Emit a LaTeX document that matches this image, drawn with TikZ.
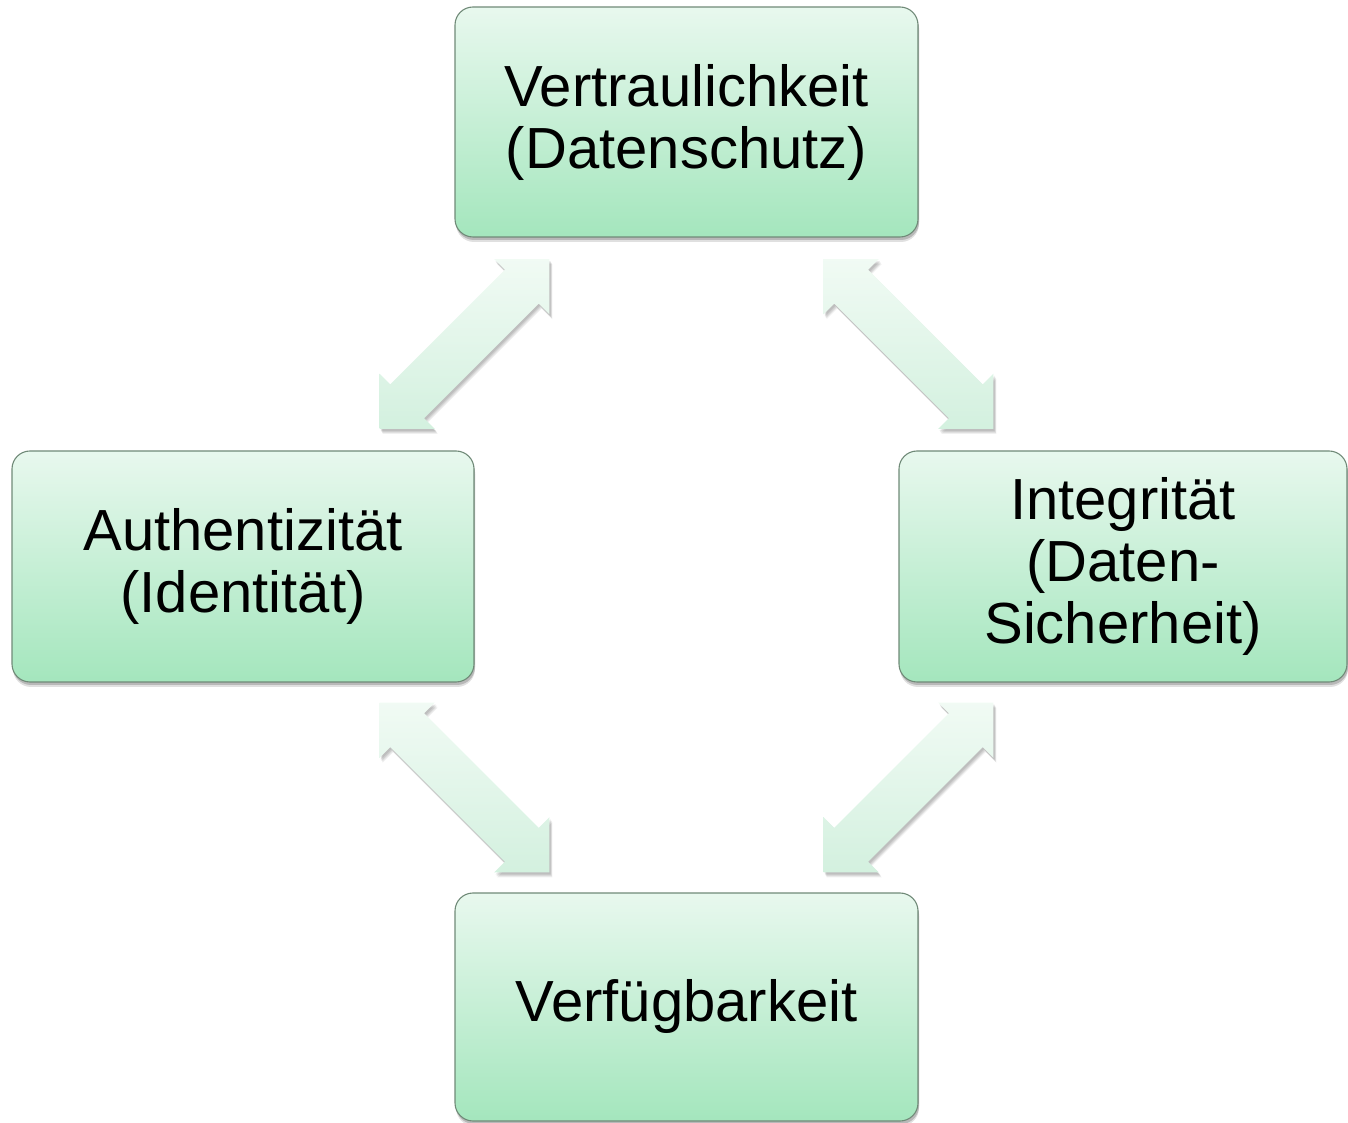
\documentclass[tikz,border=0pt]{standalone}
\usepackage{fontspec}
\setmainfont{Liberation Sans}
\usetikzlibrary{shadows,calc}

\definecolor{boxtop}{RGB}{232,248,238}
\definecolor{boxbottom}{RGB}{164,230,189}
\definecolor{boxline}{RGB}{112,138,120}
\definecolor{arrtop}{RGB}{242,251,245}
\definecolor{arrbottom}{RGB}{210,240,222}

% double-headed block arrow centred at #1, rotated by #2 degrees,
% with a vertical page gradient
\newcommand\biarrowshape{(-120,0) -- (-81,39) -- (-81,24) -- (81,24) -- (81,39) -- (120,0) -- (81,-39) -- (81,-24) -- (-81,-24) -- (-81,-39) -- cycle}
\newcommand\biarrow[2]{%
  \begin{scope}[shift={(#1)}]
    \foreach \d/\o in {5/0.06,4/0.07,3/0.08,2/0.08}
      \fill[black,opacity=\o,shift={(\d*0.6,-\d)},rotate=#2] \biarrowshape;
    \begin{scope}
      \clip[rotate=#2] \biarrowshape;
      \shade[top color=arrtop,bottom color=arrbottom] (-92,-92) rectangle (92,92);
    \end{scope}
  \end{scope}}

\begin{document}
\begin{tikzpicture}[x=1pt,y=1pt,
  box/.style={rectangle, rounded corners=18pt, draw=boxline, line width=1.1pt,
    top color=boxtop, bottom color=boxbottom, align=center, inner sep=0pt,
    font=\fontsize{58}{62}\selectfont,
    drop shadow={shadow xshift=1pt, shadow yshift=-5pt, opacity=0.12, fill=black},
    drop shadow={shadow xshift=1pt, shadow yshift=-3pt, opacity=0.18, fill=black}}]
  \useasboundingbox (0,0) rectangle (1348,1122);

  \node[box, minimum width=463pt, minimum height=230pt] (vert) at (686.5,1000)
    {Vertraulichkeit\\(Datenschutz)};
  \node[box, minimum width=462pt, minimum height=231pt] (auth) at (243,555.5)
    {Authentizität\\(Identität)};
  \node[box, minimum width=448pt, minimum height=231pt] (integ) at (1123,555.5)
    {Integrität\\(Daten-\\Sicherheit)};
  \node[box, minimum width=463pt, minimum height=228pt] (verf) at (686.5,115)
    {Verfügbarkeit};

  % connectors between neighbouring boxes
  \coordinate (a1) at ($(vert.south west)!0.5!(auth.north east)$);
  \coordinate (a2) at ($(vert.south east)!0.5!(integ.north west)$);
  \coordinate (a3) at ($(auth.south east)!0.5!(verf.north west)$);
  \coordinate (a4) at ($(integ.south west)!0.5!(verf.north east)$);
  \biarrow{a1}{45}
  \biarrow{a2}{-45}
  \biarrow{a3}{-45}
  \biarrow{a4}{45}
\end{tikzpicture}
\end{document}
